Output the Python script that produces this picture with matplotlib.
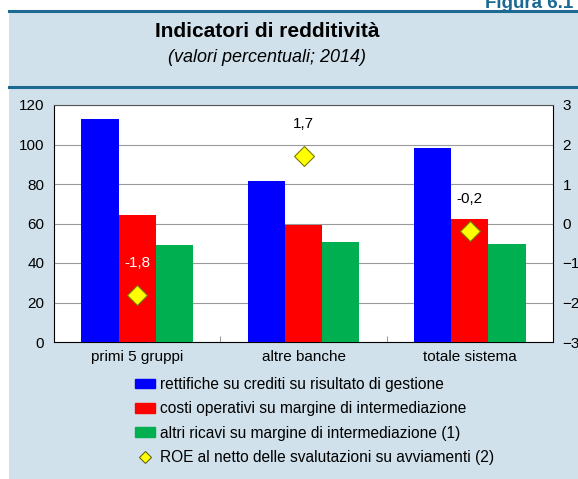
import numpy as np
import matplotlib.pyplot as plt
from matplotlib.patches import Rectangle, Patch
from matplotlib.lines import Line2D

plt.rcParams['font.family'] = ['Liberation Sans', 'DejaVu Sans']

# dati
gruppi = ['primi 5 gruppi', 'altre banche', 'totale sistema']
rettifiche = [112.8, 81.6, 98.2]
costi = [64.3, 59.4, 62.2]
altri_ricavi = [49.2, 50.8, 49.7]
roe = [-1.8, 1.7, -0.2]
roe_label = ['-1,8', '1,7', '-0,2']
roe_col = ['white', 'black', 'black']

legenda = ['rettifiche su crediti su risultato di gestione',
           'costi operativi su margine di intermediazione',
           'altri ricavi su margine di intermediazione (1)',
           'ROE al netto delle svalutazioni su avviamenti (2)']

bg = '#d0e1eb'
linea = '#1c6a92'
W, H = 578, 479

fig = plt.figure(figsize=(W / 100, H / 100), dpi=100)
fig.patch.set_facecolor('white')

# pannello azzurro e linee
fig.patches.append(Rectangle((9 / W, 0), 1, 1 - 11 / H, transform=fig.transFigure,
                             facecolor=bg, edgecolor='none', zorder=-5))
fig.add_artist(Line2D([9 / W, 1], [1 - 11 / H] * 2, color=linea, lw=2.2))
fig.add_artist(Line2D([9 / W, 1], [1 - 87 / H] * 2, color=linea, lw=2.2))
fig.text(485 / W, 1 - 8 / H, 'Figura 6.1', color=linea, fontsize=13.5, fontweight='bold',
         ha='left', va='baseline')

fig.text(267 / W, 1 - 37 / H, 'Indicatori di redditività', fontsize=15,
         fontweight='bold', ha='center', va='baseline')
fig.text(267 / W, 1 - 62 / H, '(valori percentuali; 2014)', fontsize=13,
         style='italic', ha='center', va='baseline')

ax = fig.add_axes([54 / W, 137 / H, 499 / W, 237 / H])
ax.set_facecolor('white')

x = np.arange(len(gruppi))
w = 0.224
ax.bar(x - w, rettifiche, w, color='#0000ff', zorder=3)
ax.bar(x, costi, w, color='#ff0000', zorder=3)
ax.bar(x + w, altri_ricavi, w, color='#00b050', zorder=3)

ax.set_xlim(-0.5, 2.5)
ax.set_ylim(0, 120)
ax.set_yticks(range(0, 121, 20))
ax.yaxis.grid(True, color='#9a9a9a', lw=0.8, zorder=0)
ax.set_xticks(x)
ax.set_xticklabels(gruppi, fontsize=11)
ax.set_xticks([0.5, 1.5], minor=True)
ax.tick_params(axis='x', which='major', length=0, pad=6)
ax.tick_params(axis='x', which='minor', direction='in', length=4, color='#888888')
ax.tick_params(axis='y', length=0, pad=7, labelsize=11)
ax.spines['top'].set_color('#555555')
for s in ['left', 'bottom', 'right']:
    ax.spines[s].set_color('black')

ax2 = ax.twinx()
ax2.set_ylim(-3, 3)
ax2.set_yticks(range(-3, 4))
ax2.tick_params(axis='y', length=0, pad=7, labelsize=11)
ax2.plot(x, roe, linestyle='none', marker='D', ms=10.5, mfc='#ffff00', mec='#7a7a00',
         mew=0.8, zorder=5)
for xi, v, t, c in zip(x, roe, roe_label, roe_col):
    ax2.annotate(t, (xi, v), xytext=(0, 23), textcoords='offset points',
                 ha='center', va='center', fontsize=11, color=c)
for s in ax2.spines.values():
    s.set_visible(False)

handles = [Patch(color='#0000ff'), Patch(color='#ff0000'), Patch(color='#00b050'),
           Line2D([], [], linestyle='none', marker='D', ms=6, mfc='#ffff00',
                  mec='#555500', mew=0.7)]
fig.legend(handles, legenda, loc='upper left', bbox_to_anchor=(135 / W, 1 - 377 / H),
           frameon=False, fontsize=11.2, handlelength=1.3, handleheight=0.55,
           handletextpad=0.3, labelspacing=0.6, borderpad=0, borderaxespad=0)

fig.savefig('out.png', dpi=100, facecolor=fig.get_facecolor())
